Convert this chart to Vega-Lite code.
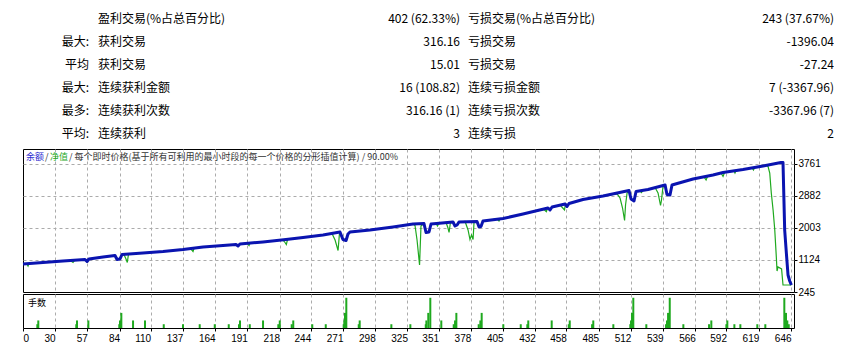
{
  "$schema": "https://vega.github.io/schema/vega-lite/v6.json",
  "padding": {"left": 20, "top": 0, "right": 0, "bottom": 0},
  "background": "#ffffff",
  "spacing": 2,
  "bounds": "flush",
  "config": {
    "view": {"stroke": "#000000", "strokeWidth": 1},
    "axis": {"labelFont": "Liberation Sans", "labelFontSize": 10, "labelColor": "#000000", "tickColor": "#000000", "title": null, "labelOverlap": false, "gridColor": "#ababab", "gridDash": [3, 3], "gridWidth": 1}
  },
  "datasets": {
    "table": [
      {"row": 1, "col": 2, "text": "盈利交易(%占总百分比)"},
      {"row": 1, "col": 3, "text": "402 (62.33%)"},
      {"row": 1, "col": 4, "text": "亏损交易(%占总百分比)"},
      {"row": 1, "col": 5, "text": "243 (37.67%)"},
      {"row": 2, "col": 1, "text": "最大:"},
      {"row": 2, "col": 2, "text": "获利交易"},
      {"row": 2, "col": 3, "text": "316.16"},
      {"row": 2, "col": 4, "text": "亏损交易"},
      {"row": 2, "col": 5, "text": "-1396.04"},
      {"row": 3, "col": 1, "text": "平均"},
      {"row": 3, "col": 2, "text": "获利交易"},
      {"row": 3, "col": 3, "text": "15.01"},
      {"row": 3, "col": 4, "text": "亏损交易"},
      {"row": 3, "col": 5, "text": "-27.24"},
      {"row": 4, "col": 1, "text": "最大:"},
      {"row": 4, "col": 2, "text": "连续获利金额"},
      {"row": 4, "col": 3, "text": "16 (108.82)"},
      {"row": 4, "col": 4, "text": "连续亏损金额"},
      {"row": 4, "col": 5, "text": "7 (-3367.96)"},
      {"row": 5, "col": 1, "text": "最多:"},
      {"row": 5, "col": 2, "text": "连续获利次数"},
      {"row": 5, "col": 3, "text": "316.16 (1)"},
      {"row": 5, "col": 4, "text": "连续亏损次数"},
      {"row": 5, "col": 5, "text": "-3367.96 (7)"},
      {"row": 6, "col": 1, "text": "平均:"},
      {"row": 6, "col": 2, "text": "连续获利"},
      {"row": 6, "col": 3, "text": "3"},
      {"row": 6, "col": 4, "text": "连续亏损"},
      {"row": 6, "col": 5, "text": "2"}
    ],
    "balance": [
      {"trade": 3.2, "value": 1014}, {"trade": 19.9, "value": 1055}, {"trade": 36.7, "value": 1097}, {"trade": 55.1, "value": 1138}, {"trade": 56.8, "value": 1083}, {"trade": 58.4, "value": 1152}, {"trade": 70.2, "value": 1206}, {"trade": 80.2, "value": 1248}, {"trade": 81.9, "value": 1138}, {"trade": 84.4, "value": 1152}, {"trade": 86.1, "value": 1275}, {"trade": 103.6, "value": 1316}, {"trade": 120.4, "value": 1358}, {"trade": 137.1, "value": 1413}, {"trade": 153.9, "value": 1481}, {"trade": 170.6, "value": 1522}, {"trade": 181.5, "value": 1550}, {"trade": 183.2, "value": 1509}, {"trade": 184.8, "value": 1564}, {"trade": 204.1, "value": 1619}, {"trade": 223.3, "value": 1687}, {"trade": 237.6, "value": 1742}, {"trade": 254.3, "value": 1811}, {"trade": 268.5, "value": 1893}, {"trade": 271.0, "value": 1687}, {"trade": 273.6, "value": 1660}, {"trade": 275.2, "value": 1838}, {"trade": 276.9, "value": 1893}, {"trade": 293.6, "value": 1948}, {"trade": 312.9, "value": 2031}, {"trade": 329.6, "value": 2113}, {"trade": 338.8, "value": 2127}, {"trade": 340.5, "value": 1880}, {"trade": 343.0, "value": 1893}, {"trade": 344.7, "value": 2113}, {"trade": 363.1, "value": 2168}, {"trade": 364.8, "value": 2058}, {"trade": 366.5, "value": 2085}, {"trade": 368.1, "value": 2168}, {"trade": 383.2, "value": 2182}, {"trade": 384.9, "value": 2031}, {"trade": 386.5, "value": 2044}, {"trade": 388.2, "value": 2195}, {"trade": 405.0, "value": 2264}, {"trade": 421.7, "value": 2388}, {"trade": 442.6, "value": 2552}, {"trade": 444.3, "value": 2498}, {"trade": 446.0, "value": 2580}, {"trade": 456.9, "value": 2662}, {"trade": 458.5, "value": 2594}, {"trade": 460.2, "value": 2676}, {"trade": 471.9, "value": 2786}, {"trade": 488.7, "value": 2882}, {"trade": 510.4, "value": 3033}, {"trade": 512.1, "value": 2800}, {"trade": 514.6, "value": 2745}, {"trade": 516.3, "value": 3006}, {"trade": 526.3, "value": 3061}, {"trade": 540.6, "value": 3184}, {"trade": 542.2, "value": 2923}, {"trade": 544.7, "value": 2910}, {"trade": 546.4, "value": 3184}, {"trade": 564.0, "value": 3349}, {"trade": 580.7, "value": 3459}, {"trade": 589.1, "value": 3528}, {"trade": 605.8, "value": 3610}, {"trade": 622.6, "value": 3706}, {"trade": 637.6, "value": 3802}, {"trade": 639.3, "value": 3802}, {"trade": 640.7, "value": 1948}, {"trade": 642.1, "value": 1316}, {"trade": 643.5, "value": 712}, {"trade": 644.9, "value": 547}, {"trade": 646.3, "value": 437}
    ],
    "equity": [
      {"trade": 3.2, "value": 1014}, {"trade": 6.5, "value": 1014}, {"trade": 7.4, "value": 959}, {"trade": 8.2, "value": 1028}, {"trade": 19.9, "value": 1055}, {"trade": 36.7, "value": 1097}, {"trade": 43.4, "value": 1097}, {"trade": 45.1, "value": 1055}, {"trade": 46.3, "value": 1110}, {"trade": 55.1, "value": 1138}, {"trade": 56.8, "value": 1083}, {"trade": 58.4, "value": 1152}, {"trade": 70.2, "value": 1206}, {"trade": 80.2, "value": 1248}, {"trade": 81.9, "value": 1138}, {"trade": 84.4, "value": 1152}, {"trade": 86.1, "value": 1275}, {"trade": 87.7, "value": 1275}, {"trade": 89.4, "value": 1152}, {"trade": 90.5, "value": 1055}, {"trade": 91.5, "value": 1289}, {"trade": 103.6, "value": 1316}, {"trade": 120.4, "value": 1358}, {"trade": 143.8, "value": 1426}, {"trade": 145.5, "value": 1358}, {"trade": 146.3, "value": 1440}, {"trade": 153.9, "value": 1481}, {"trade": 170.6, "value": 1522}, {"trade": 181.5, "value": 1550}, {"trade": 183.2, "value": 1509}, {"trade": 184.8, "value": 1564}, {"trade": 190.7, "value": 1591}, {"trade": 192.4, "value": 1522}, {"trade": 193.2, "value": 1591}, {"trade": 204.1, "value": 1619}, {"trade": 220.8, "value": 1673}, {"trade": 222.5, "value": 1605}, {"trade": 223.6, "value": 1550}, {"trade": 224.6, "value": 1687}, {"trade": 237.6, "value": 1742}, {"trade": 254.3, "value": 1811}, {"trade": 261.8, "value": 1852}, {"trade": 264.4, "value": 1673}, {"trade": 266.9, "value": 1385}, {"trade": 268.1, "value": 1866}, {"trade": 268.5, "value": 1893}, {"trade": 271.0, "value": 1687}, {"trade": 273.6, "value": 1660}, {"trade": 275.2, "value": 1838}, {"trade": 276.9, "value": 1893}, {"trade": 293.6, "value": 1948}, {"trade": 312.9, "value": 2031}, {"trade": 329.6, "value": 2113}, {"trade": 331.3, "value": 2072}, {"trade": 333.0, "value": 1673}, {"trade": 335.1, "value": 987}, {"trade": 336.3, "value": 2058}, {"trade": 338.8, "value": 2127}, {"trade": 340.5, "value": 1880}, {"trade": 343.0, "value": 1893}, {"trade": 344.7, "value": 2113}, {"trade": 348.9, "value": 2127}, {"trade": 350.1, "value": 2058}, {"trade": 351.4, "value": 2140}, {"trade": 357.3, "value": 2154}, {"trade": 358.9, "value": 2003}, {"trade": 359.8, "value": 1880}, {"trade": 361.0, "value": 2168}, {"trade": 363.1, "value": 2168}, {"trade": 364.8, "value": 2058}, {"trade": 366.5, "value": 2085}, {"trade": 368.1, "value": 2168}, {"trade": 373.2, "value": 2182}, {"trade": 375.7, "value": 1948}, {"trade": 377.3, "value": 1687}, {"trade": 378.6, "value": 1811}, {"trade": 379.9, "value": 1687}, {"trade": 380.7, "value": 2168}, {"trade": 383.2, "value": 2182}, {"trade": 384.9, "value": 2031}, {"trade": 386.5, "value": 2044}, {"trade": 388.2, "value": 2195}, {"trade": 399.9, "value": 2250}, {"trade": 401.6, "value": 2195}, {"trade": 402.5, "value": 2250}, {"trade": 405.0, "value": 2264}, {"trade": 421.7, "value": 2388}, {"trade": 439.3, "value": 2511}, {"trade": 441.2, "value": 2451}, {"trade": 442.2, "value": 2539}, {"trade": 442.6, "value": 2552}, {"trade": 444.3, "value": 2498}, {"trade": 446.0, "value": 2580}, {"trade": 452.7, "value": 2635}, {"trade": 456.4, "value": 2498}, {"trade": 457.2, "value": 2662}, {"trade": 458.5, "value": 2594}, {"trade": 460.2, "value": 2676}, {"trade": 471.9, "value": 2786}, {"trade": 488.7, "value": 2882}, {"trade": 500.4, "value": 2937}, {"trade": 502.9, "value": 2827}, {"trade": 505.0, "value": 2552}, {"trade": 506.7, "value": 2209}, {"trade": 507.5, "value": 2635}, {"trade": 508.8, "value": 2965}, {"trade": 510.4, "value": 3033}, {"trade": 512.1, "value": 2800}, {"trade": 514.6, "value": 2745}, {"trade": 516.3, "value": 3006}, {"trade": 519.6, "value": 3019}, {"trade": 520.9, "value": 2978}, {"trade": 522.1, "value": 3047}, {"trade": 526.3, "value": 3061}, {"trade": 532.2, "value": 3116}, {"trade": 534.7, "value": 2965}, {"trade": 536.8, "value": 2621}, {"trade": 537.6, "value": 2772}, {"trade": 538.9, "value": 3157}, {"trade": 540.6, "value": 3184}, {"trade": 542.2, "value": 2923}, {"trade": 544.7, "value": 2910}, {"trade": 546.4, "value": 3184}, {"trade": 564.0, "value": 3349}, {"trade": 573.2, "value": 3404}, {"trade": 574.9, "value": 3322}, {"trade": 576.1, "value": 3418}, {"trade": 580.7, "value": 3459}, {"trade": 587.4, "value": 3514}, {"trade": 589.1, "value": 3418}, {"trade": 590.4, "value": 3528}, {"trade": 598.3, "value": 3569}, {"trade": 599.1, "value": 3514}, {"trade": 600.0, "value": 3583}, {"trade": 605.8, "value": 3610}, {"trade": 613.4, "value": 3651}, {"trade": 614.6, "value": 3596}, {"trade": 615.5, "value": 3665}, {"trade": 622.6, "value": 3706}, {"trade": 625.1, "value": 3734}, {"trade": 626.8, "value": 3692}, {"trade": 628.2, "value": 3514}, {"trade": 629.5, "value": 2965}, {"trade": 631.0, "value": 2498}, {"trade": 632.4, "value": 1948}, {"trade": 633.7, "value": 1206}, {"trade": 634.3, "value": 822}, {"trade": 635.1, "value": 932}, {"trade": 638.1, "value": 877}, {"trade": 639.3, "value": 437}, {"trade": 646.3, "value": 437}
    ],
    "volume": [
      {"trade": 15.2, "lots": 0.01}, {"trade": 16.0, "lots": 0.02}, {"trade": 47.8, "lots": 0.01}, {"trade": 48.4, "lots": 0.02}, {"trade": 57.9, "lots": 0.02}, {"trade": 83.8, "lots": 0.01}, {"trade": 84.4, "lots": 0.02}, {"trade": 85.5, "lots": 0.04}, {"trade": 95.3, "lots": 0.02}, {"trade": 105.3, "lots": 0.02}, {"trade": 121.0, "lots": 0.01}, {"trade": 137.1, "lots": 0.01}, {"trade": 151.1, "lots": 0.01}, {"trade": 163.7, "lots": 0.01}, {"trade": 175.4, "lots": 0.01}, {"trade": 184.0, "lots": 0.01}, {"trade": 184.8, "lots": 0.02}, {"trade": 193.0, "lots": 0.01}, {"trade": 204.1, "lots": 0.02}, {"trade": 216.9, "lots": 0.01}, {"trade": 218.1, "lots": 0.02}, {"trade": 228.1, "lots": 0.01}, {"trade": 229.4, "lots": 0.02}, {"trade": 245.3, "lots": 0.01}, {"trade": 256.6, "lots": 0.01}, {"trade": 271.6, "lots": 0.01}, {"trade": 272.1, "lots": 0.02}, {"trade": 272.7, "lots": 0.04}, {"trade": 273.8, "lots": 0.08}, {"trade": 284.2, "lots": 0.01}, {"trade": 285.0, "lots": 0.02}, {"trade": 311.5, "lots": 0.01}, {"trade": 327.4, "lots": 0.01}, {"trade": 340.3, "lots": 0.01}, {"trade": 340.8, "lots": 0.02}, {"trade": 342.4, "lots": 0.04}, {"trade": 344.1, "lots": 0.08}, {"trade": 353.3, "lots": 0.02}, {"trade": 363.7, "lots": 0.01}, {"trade": 364.8, "lots": 0.02}, {"trade": 365.9, "lots": 0.04}, {"trade": 384.6, "lots": 0.01}, {"trade": 386.0, "lots": 0.02}, {"trade": 387.1, "lots": 0.04}, {"trade": 405.2, "lots": 0.01}, {"trade": 419.8, "lots": 0.01}, {"trade": 425.3, "lots": 0.01}, {"trade": 426.1, "lots": 0.02}, {"trade": 445.7, "lots": 0.02}, {"trade": 460.0, "lots": 0.01}, {"trade": 460.8, "lots": 0.02}, {"trade": 479.5, "lots": 0.01}, {"trade": 480.5, "lots": 0.02}, {"trade": 497.3, "lots": 0.01}, {"trade": 511.5, "lots": 0.01}, {"trade": 512.1, "lots": 0.02}, {"trade": 512.9, "lots": 0.04}, {"trade": 514.0, "lots": 0.08}, {"trade": 524.9, "lots": 0.01}, {"trade": 541.4, "lots": 0.01}, {"trade": 542.2, "lots": 0.02}, {"trade": 543.1, "lots": 0.04}, {"trade": 544.5, "lots": 0.08}, {"trade": 555.9, "lots": 0.01}, {"trade": 577.4, "lots": 0.01}, {"trade": 579.3, "lots": 0.02}, {"trade": 591.9, "lots": 0.01}, {"trade": 592.7, "lots": 0.02}, {"trade": 598.6, "lots": 0.01}, {"trade": 603.6, "lots": 0.01}, {"trade": 617.8, "lots": 0.01}, {"trade": 624.5, "lots": 0.01}, {"trade": 640.4, "lots": 0.08}, {"trade": 641.8, "lots": 0.04}, {"trade": 642.9, "lots": 0.02}, {"trade": 644.1, "lots": 0.01}
    ]
  },
  "vconcat": [
    {
      "width": 771,
      "height": 147,
      "view": {"stroke": null},
      "data": {"name": "table"},
      "encoding": {
        "x": {"field": "col", "type": "quantitative", "scale": {"domain": [1, 2, 3, 4, 5], "range": [66, 75, 437, 445, 811], "nice": false, "zero": false}, "axis": null},
        "y": {"field": "row", "type": "quantitative", "scale": {"domain": [0.174, 6.565], "reverse": true, "nice": false, "zero": false}, "axis": null},
        "text": {"field": "text", "type": "nominal"}
      },
      "layer": [
        {
          "transform": [{"filter": "datum.col == 2 || datum.col == 4"}],
          "mark": {"type": "text", "align": "left", "baseline": "middle", "font": "Noto Sans CJK SC", "fontSize": 12, "color": "#000000"}
        },
        {
          "transform": [{"filter": "datum.col != 2 && datum.col != 4"}],
          "mark": {"type": "text", "align": "right", "baseline": "middle", "font": "Noto Sans CJK SC", "fontSize": 12, "color": "#000000"}
        }
      ]
    },
    {
      "width": 771,
      "height": 143,
      "layer": [
        {
          "data": {"name": "equity"},
          "mark": {"type": "line", "color": "#1fa91f", "strokeWidth": 1.2},
          "encoding": {
            "x": {"field": "trade", "type": "quantitative", "scale": {"domain": [3.2, 648.5], "nice": false, "zero": false},
              "axis": {"orient": "bottom", "values": [30, 57, 84, 110, 137, 164, 191, 218, 244, 271, 298, 325, 351, 378, 405, 432, 458, 485, 512, 539, 566, 592, 619, 646], "tickCount": 60, "labels": false, "ticks": false, "domain": false, "grid": true}},
            "y": {"field": "value", "type": "quantitative", "scale": {"domain": [245, 4173], "nice": false, "zero": false},
              "axis": {"orient": "right", "values": [245, 1124, 2003, 2882, 3761], "tickCount": 20, "format": "d", "labelOverlap": false, "grid": true, "gridColor": {"condition": {"test": "datum.value < 300", "value": "transparent"}, "value": "#ababab"}, "domain": false, "tickSize": 3, "labelPadding": 1}}
          }
        },
        {
          "data": {"name": "balance"},
          "mark": {"type": "line", "color": "#0a14b0", "strokeWidth": 3, "strokeJoin": "round"},
          "encoding": {
            "x": {"field": "trade", "type": "quantitative"},
            "y": {"field": "value", "type": "quantitative"}
          }
        },
        {
          "data": {"values": [{"label": "余额"}]},
          "mark": {"type": "text", "align": "left", "baseline": "middle", "font": "Noto Sans CJK SC", "fontSize": 9, "color": "#2a2ad0"},
          "encoding": {"x": {"datum": 5.7, "type": "quantitative"}, "y": {"datum": 3940, "type": "quantitative"}, "text": {"field": "label"}}
        },
        {
          "data": {"values": [{"label": "/"}]},
          "mark": {"type": "text", "align": "left", "baseline": "middle", "font": "Noto Sans CJK SC", "fontSize": 9, "color": "#333333"},
          "encoding": {"x": {"datum": 21.6, "type": "quantitative"}, "y": {"datum": 3940, "type": "quantitative"}, "text": {"field": "label"}}
        },
        {
          "data": {"values": [{"label": "净值"}]},
          "mark": {"type": "text", "align": "left", "baseline": "middle", "font": "Noto Sans CJK SC", "fontSize": 9, "color": "#1fa91f"},
          "encoding": {"x": {"datum": 25.8, "type": "quantitative"}, "y": {"datum": 3940, "type": "quantitative"}, "text": {"field": "label"}}
        },
        {
          "data": {"values": [{"label": "/ 每个即时价格(基于所有可利用的最小时段的每一个价格的分形插值计算) / 90.00%"}]},
          "mark": {"type": "text", "align": "left", "baseline": "middle", "font": "Noto Sans CJK SC", "fontSize": 9, "color": "#333333"},
          "encoding": {"x": {"datum": 41.7, "type": "quantitative"}, "y": {"datum": 3940, "type": "quantitative"}, "text": {"field": "label"}}
        }
      ]
    },
    {
      "width": 771,
      "height": 34,
      "layer": [
        {
          "data": {"name": "volume"},
          "mark": {"type": "rule", "color": "#1fa91f", "strokeWidth": 2},
          "encoding": {
            "x": {"field": "trade", "type": "quantitative", "scale": {"domain": [3.2, 648.5], "nice": false, "zero": false},
              "axis": {"orient": "bottom", "values": [3.2, 30, 57, 84, 110, 137, 164, 191, 218, 244, 271, 298, 325, 351, 378, 405, 432, 458, 485, 512, 539, 566, 592, 619, 646], "tickCount": 60,
                "labelExpr": "datum.value < 10 ? '0' : format(datum.value, 'd')",
                "labelAlign": {"condition": {"test": "datum.value < 10", "value": "left"}, "value": "right"},
                "labelFlush": false, "labelOverlap": false, "tickSize": 3, "labelPadding": 2, "domain": false, "grid": true,
                "gridColor": {"condition": {"test": "datum.value < 10", "value": "transparent"}, "value": "#ababab"}}},
            "y": {"field": "lots", "type": "quantitative", "scale": {"domain": [0, 0.09], "nice": false}, "axis": null},
            "y2": {"datum": 0}
          }
        },
        {
          "data": {"values": [{"label": "手数"}]},
          "mark": {"type": "text", "align": "left", "baseline": "middle", "font": "Noto Sans CJK SC", "fontSize": 9, "color": "#000000"},
          "encoding": {"x": {"datum": 7.4, "type": "quantitative"}, "y": {"datum": 0.067, "type": "quantitative"}, "text": {"field": "label"}}
        }
      ]
    }
  ]
}
